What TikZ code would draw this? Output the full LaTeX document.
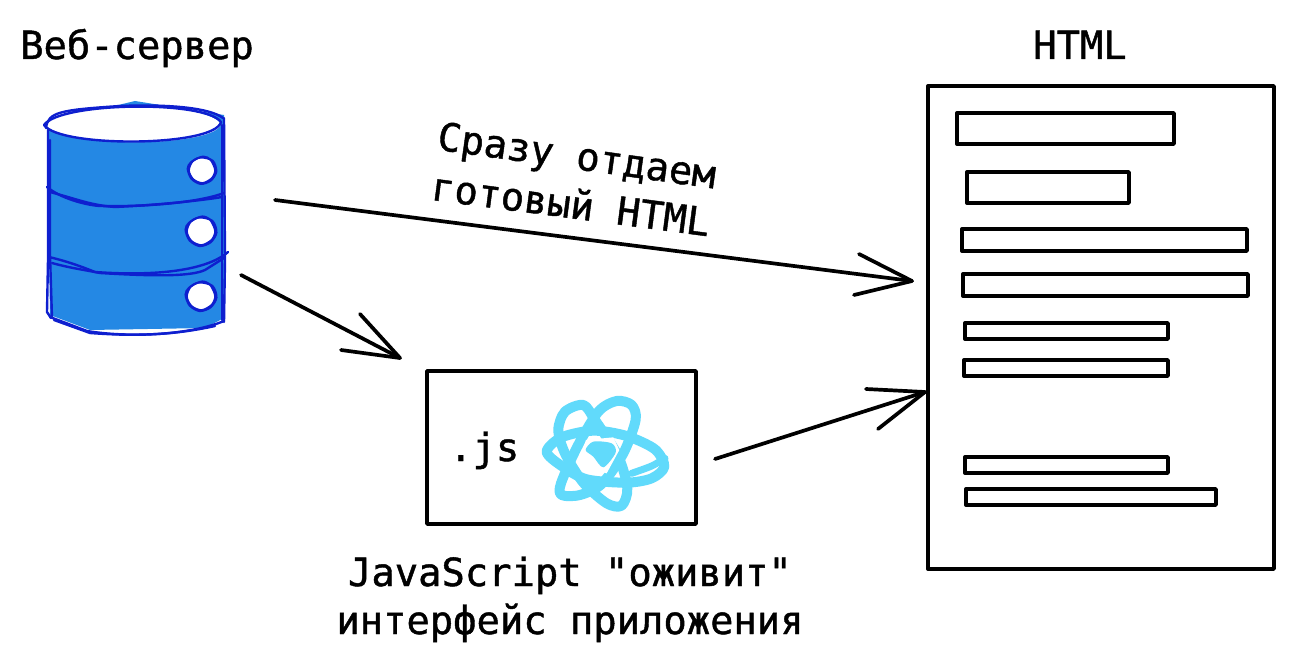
\documentclass[tikz,border=0pt]{standalone}
\usepackage{fontspec}
\newfontfamily\lblfont{DejaVu Sans Mono}[BoldFont=DejaVu Sans Mono, BoldFeatures={FakeBold=1.1}]
\definecolor{dbfill}{HTML}{2488E4}
\definecolor{dbline}{HTML}{0E1FCF}
\definecolor{reactc}{HTML}{61DAFB}
\tikzset{
  lbl/.style={font=\lblfont\fontsize{38.8}{46}\selectfont\bfseries, text=black, inner sep=0pt, align=center},
  box/.style={draw=black, line width=3.4pt, line join=round, fill=white},
  conn/.style={draw=black, line width=3.7pt, line cap=round, line join=round},
  db/.style={draw=dbline, line width=2.4pt, line cap=round, line join=round},
  atom/.style={draw=reactc, line width=10pt, line cap=round, line join=round},
}
\begin{document}
\begin{tikzpicture}[x=1pt,y=-1pt]
\useasboundingbox (0,0) rectangle (1293,663);
% ---- server cylinder
\fill[dbfill] (47,122) -- (135,101) -- (224,115) -- (224,318) -- (205,328) -- (90,330) -- (50,315) -- cycle;
\fill[white] (46,125) .. controls (60,102) and (205,100) .. (221,124) .. controls (215,148) and (60,148) .. (46,125);
\draw[db] (44,125) .. controls (60,102) and (205,100) .. (221,122) .. controls (215,147) and (60,148) .. (44,125);
\draw[db] (46,128) .. controls (48,112) and (60,110) .. (120,106) .. controls (170,104) and (210,108) .. (223,118);
\draw[db] (48,130) -- (48,260) -- (47,312) -- (51,318);
\draw[db] (50,140) -- (50,255) -- (52,318);
\draw[db] (224,118) -- (225,260) -- (224,322);
\draw[db] (222,125) -- (222,320);
\draw[db] (47,187) .. controls (60,198) and (85,205) .. (100,206) .. controls (150,207) and (200,202) .. (224,193);
\draw[db] (50,192) .. controls (80,200) and (90,205) .. (115,207) .. controls (160,205) and (205,200) .. (222,197);
\draw[db] (49,257) .. controls (70,262) and (85,268) .. (95,272) .. controls (150,276) and (205,272) .. (228,252);
\draw[db] (52,263) .. controls (70,268) and (85,270) .. (100,273) .. controls (150,276) and (190,277) .. (205,270) -- (224,258);
\draw[db] (50,317) -- (87,331) .. controls (130,338) and (190,335) .. (224,321);
\draw[db] (54,320) -- (90,333) .. controls (130,336) and (170,336) .. (215,326);
\foreach \cx/\cy/\r in {202/170/12.5, 201/231/13.5, 201/296/13.5} {
  \fill[white,shift={(\cx,\cy)}] plot[smooth cycle] coordinates {({\r},0) ({0.7*\r},{-0.75*\r}) (0,{-\r}) ({-0.75*\r},{-0.7*\r}) ({-\r},0) ({-0.7*\r},{0.7*\r}) (0,{\r}) ({0.75*\r},{0.7*\r})};
  \draw[db,line width=2pt,shift={(\cx,\cy)}] plot[smooth cycle] coordinates {({1.05*\r},0) ({0.7*\r},{-0.8*\r}) ({0.1*\r},{-1.08*\r}) ({-0.75*\r},{-0.7*\r}) ({-1.05*\r},{0.05*\r}) ({-0.7*\r},{0.75*\r}) ({0.05*\r},{1.05*\r}) ({0.8*\r},{0.65*\r})};
  \draw[db,line width=2pt,shift={(\cx,\cy)}] plot[smooth cycle] coordinates {({1.15*\r},{0.12*\r}) ({0.85*\r},{-0.75*\r}) ({-0.15*\r},{-1*\r}) ({-0.9*\r},{-0.6*\r}) ({-1.15*\r},{-0.1*\r}) ({-0.85*\r},{0.7*\r}) ({-0.1*\r},{1.12*\r}) ({0.7*\r},{0.85*\r})};
}
\node[lbl, anchor=base] (server) at (137,59) {Веб-сервер};
\node[lbl, anchor=base] (htmltitle) at (1080,59) {HTML};
% ---- document
\node[box, anchor=north west, minimum width=346pt, minimum height=483pt, inner sep=0pt, outer sep=0pt] (doc) at (928,86) {};
\foreach \n/\xa/\ya/\xb/\yb in {b1/957/113/1174/144, b2/967/172/1129/203, b3/962/229/1247/251, b4/963/274/1248/296, b5/965/323/1168/339, b6/964/360/1168/376, b7/965/457/1168/473, b8/966/489/1216/505} {
  \node[box, anchor=north west, inner sep=0pt, outer sep=0pt, minimum width={(\xb-\xa)*1pt}, minimum height={(\yb-\ya)*1pt}] (\n) at (\xa,\ya) {};
}
% ---- js box
\node[box, anchor=north west, minimum width=269pt, minimum height=153pt, inner sep=0pt, outer sep=0pt] (js) at (427,371) {};
\node[lbl, anchor=base west] (jst) at (449,461) {.js};
\begin{scope}[shift={(420,360)},x=0.3333pt,y=-0.3333pt]
\draw[atom] plot[smooth cycle] coordinates {(380,275) (425,232) (520,212) (620,228) (705,268) (733,320) (695,355) (620,368) (500,358) (425,318)};
\draw[atom,line width=7pt] plot[smooth] coordinates {(635,340) (695,318) (735,295)};
\draw[atom] plot[smooth cycle] coordinates {(415,210) (435,155) (490,135) (525,180) (595,290) (622,385) (605,437) (560,430) (490,368) (435,280)};
\draw[atom] plot[smooth cycle] coordinates {(647,180) (635,135) (590,123) (535,155) (472,260) (423,370) (425,405) (480,405) (545,372) (610,280)};
\fill[white] (498,240) -- (580,232) -- (598,270) -- (560,340) -- (500,320) -- (482,285) -- cycle;
\fill[reactc] plot[smooth cycle] coordinates {(497,270) (520,245) (575,250) (587,278) (550,322) (520,290)};
\end{scope}
% ---- labels
\node[lbl, rotate=-8, anchor=base] (l1) at (575,169) {Сразу отдаем};
\node[lbl, rotate=-7.5, anchor=base] (l2) at (569,218) {готовый HTML};
\node[lbl, anchor=base] (l3) at (570,586) {JavaScript "оживит"};
\node[lbl, anchor=base] (l4) at (570,634) {интерфейс приложения};
% ---- arrows
\coordinate (a1s) at (275,200); \coordinate (a1e) at (912,281);
\coordinate (a1u) at (859,254); \coordinate (a1d) at (854,295);
\coordinate (a2s) at (241,275); \coordinate (a2e) at (400,358);
\coordinate (a2u) at (360,314); \coordinate (a2d) at (341,350);
\coordinate (a3s) at (715,459); \coordinate (a3e) at (925,392);
\coordinate (a3u) at (866,389); \coordinate (a3d) at (878,429);
\draw[conn] (a1s) -- (a1e); \draw[conn] (a1u) -- (a1e) -- (a1d);
\draw[conn] (a2s) -- (a2e); \draw[conn] (a2u) -- (a2e) -- (a2d);
\draw[conn] (a3s) -- (a3e); \draw[conn] (a3u) -- (a3e) -- (a3d);
\end{tikzpicture}
\end{document}
